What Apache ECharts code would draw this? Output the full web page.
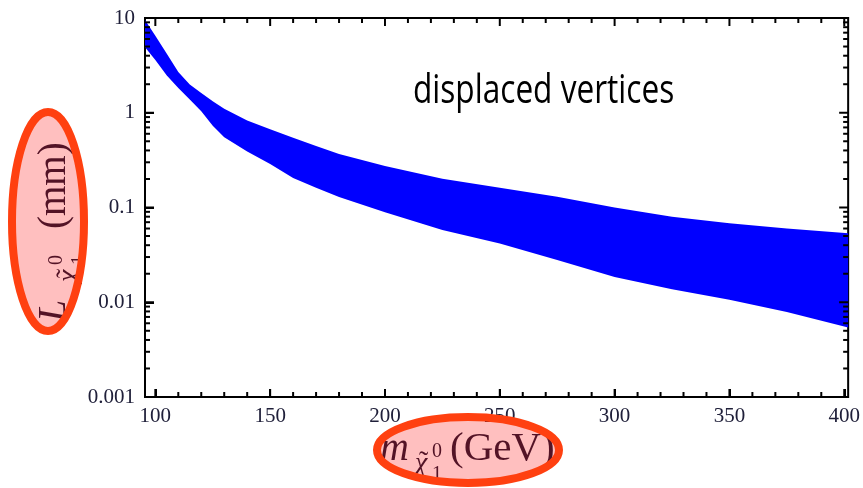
<!DOCTYPE html>
<html>
<head>
<meta charset="utf-8">
<script src="https://cdn.jsdelivr.net/npm/echarts@6/dist/echarts.min.js"></script>
<style>
  html, body { margin: 0; padding: 0; background: #ffffff; }
  #chart { width: 863px; height: 488px; }
</style>
</head>
<body>
<div id="chart"></div>
<script>
// Neutralino mass (GeV) and the decay-length band edges (mm)
const MASS    = [95.5, 100, 105, 110, 115, 120, 125, 130, 140, 150, 160, 170, 180, 200, 225, 250, 275, 300, 325, 350, 375, 401.7];
const L_UPPER = [9.5, 6.5, 4.2, 2.7, 1.99, 1.62, 1.32, 1.10, 0.83, 0.67, 0.545, 0.446, 0.367, 0.274, 0.201, 0.162, 0.130, 0.100, 0.080, 0.068, 0.060, 0.0535];
const L_LOWER = [4.9, 3.6, 2.48, 1.82, 1.38, 1.04, 0.73, 0.55, 0.39, 0.288, 0.205, 0.162, 0.129, 0.089, 0.058, 0.0416, 0.0279, 0.0185, 0.0137, 0.0106, 0.0079, 0.0054];

// Axis ranges, tick positions and tick labels
const X_RANGE = [95.5, 401.7];
const X_MAJOR = [100, 150, 200, 250, 300, 350, 400];
const X_MINOR = [110, 120, 130, 140, 160, 170, 180, 190, 210, 220, 230, 240, 260, 270, 280, 290,
                 310, 320, 330, 340, 360, 370, 380, 390];
const Y_RANGE = [0.001, 10];
const Y_MAJOR = [0.001, 0.01, 0.1, 1, 10];
const Y_LABELS = ['0.001', '0.01', '0.1', '1', '10'];
const Y_MINOR = [0.002, 0.003, 0.004, 0.005, 0.006, 0.007, 0.008, 0.009,
                 0.02, 0.03, 0.04, 0.05, 0.06, 0.07, 0.08, 0.09,
                 0.2, 0.3, 0.4, 0.5, 0.6, 0.7, 0.8, 0.9,
                 2, 3, 4, 5, 6, 7, 8, 9];

const TEXT_NOTE = 'displaced vertices';

const SERIF = "'Liberation Serif', 'DejaVu Serif', serif";
const LABEL_COLOR = '#20203a';

// Inward frame ticks on all four sides, placed through the axis scales
function renderTicks(params, api) {
  const children = [];
  function seg(p, dx, dy, w) {
    children.push({ type: 'line', shape: { x1: p[0], y1: p[1], x2: p[0] + dx, y2: p[1] + dy },
                    style: { stroke: '#000', lineWidth: w } });
  }
  X_MAJOR.forEach(function (v) {
    seg(api.coord([v, Y_RANGE[0]]), 0, -8, 2);
    seg(api.coord([v, Y_RANGE[1]]), 0, 8, 2);
  });
  X_MINOR.forEach(function (v) {
    seg(api.coord([v, Y_RANGE[0]]), 0, -5, 2);
    seg(api.coord([v, Y_RANGE[1]]), 0, 5, 2);
  });
  Y_MAJOR.forEach(function (v) {
    seg(api.coord([X_RANGE[0], v]), 9, 0, 2);
    seg(api.coord([X_RANGE[1], v]), -9, 0, 2);
  });
  Y_MINOR.forEach(function (v) {
    seg(api.coord([X_RANGE[0], v]), 5, 0, 2);
    seg(api.coord([X_RANGE[1], v]), -5, 0, 2);
  });
  return { type: 'group', children: children };
}

// Places a text run so that its baseline sits at y = base
function run(str, x, base, size, italic) {
  return {
    type: 'text', x: x, y: base - 0.34 * size, z: 10,
    style: {
      text: str, fontFamily: SERIF, fontSize: size,
      fontStyle: italic ? 'italic' : 'normal',
      fill: '#1a1a33', align: 'left', verticalAlign: 'middle'
    }
  };
}

// Axis title pieces laid out along a baseline starting at local x = 0
function titlePieces(symbol, subAt, unit, unitAt, unitSize) {
  return [
    run(symbol, 0, 0, 40, true),
    run('\u03C7', subAt, 10, 28, true),
    run('\u02DC', subAt + 4, 9, 28, false),
    run('0', subAt + 17, -4, 20, false),
    run('1', subAt + 17, 19, 20, false),
    run(unit, unitAt, 0, unitSize, false)
  ];
}

const chart = echarts.init(document.getElementById('chart'));

chart.setOption({
  animation: false,
  // the grid border gives the closed box frame
  grid: { left: 145, right: 14, top: 18, bottom: 91, show: true,
          borderColor: '#000', borderWidth: 2, backgroundColor: 'transparent' },
  xAxis: {
    type: 'value', min: X_RANGE[0], max: X_RANGE[1],
    axisLine: { show: true, lineStyle: { color: '#000', width: 2 } },
    axisTick: { show: true, inside: true, length: 8, lineStyle: { color: '#000', width: 2 } },
    axisLabel: { margin: 9, fontFamily: SERIF, fontSize: 21, color: LABEL_COLOR },
    splitLine: { show: false }
  },
  yAxis: {
    type: 'log', min: Y_RANGE[0], max: Y_RANGE[1],
    axisLine: { show: true, lineStyle: { color: '#000', width: 2 } },
    axisTick: { show: true, inside: true, length: 9, lineStyle: { color: '#000', width: 2 } },
    axisLabel: { margin: 10, fontFamily: SERIF, fontSize: 21, color: LABEL_COLOR,
                 formatter: function (v) { return Y_LABELS[Math.round(Math.log10(v)) + 3]; } },
    splitLine: { show: false }
  },
  series: [{
    type: 'custom',
    data: MASS.map(function (m, i) { return [m, L_LOWER[i], L_UPPER[i]]; }),
    encode: { x: 0, y: [1, 2] },
    renderItem: function (params, api) {
      if (params.dataIndex !== 0) return null;
      const pts = [];
      for (let i = 0; i < MASS.length; i++) pts.push(api.coord([MASS[i], L_UPPER[i]]));
      for (let i = MASS.length - 1; i >= 0; i--) pts.push(api.coord([MASS[i], L_LOWER[i]]));
      return { type: 'polygon', shape: { points: pts }, style: { fill: '#0000ff' } };
    }
  }, {
    type: 'custom',
    z: 5,
    data: [[200, 1]],
    renderItem: renderTicks
  }],
  graphic: [
    {
      type: 'text', x: 413, y: 92, scaleX: 0.79, z: 10,
      style: { text: TEXT_NOTE, fontFamily: "'Open Sans'", fontSize: 40, fill: '#000',
               align: 'left', verticalAlign: 'middle' }
    },
    // x-axis title
    { type: 'group', x: 380, y: 463, children: titlePieces('m', 35, '(GeV)', 70, 41) },
    // y-axis title, reading upward
    { type: 'group', x: 68, y: 322, rotation: Math.PI / 2, children: titlePieces('L', 40, '(mm)', 93, 39) },
    // highlight ellipses
    { type: 'ellipse', z: 20, shape: { cx: 48, cy: 221.5, rx: 36, ry: 109.5 },
      style: { fill: 'rgba(255,0,0,0.25)', stroke: '#ff4010', lineWidth: 8 } },
    { type: 'ellipse', z: 20, shape: { cx: 468, cy: 450, rx: 91, ry: 33 },
      style: { fill: 'rgba(255,0,0,0.25)', stroke: '#ff4010', lineWidth: 8 } }
  ]
});
</script>
</body>
</html>
